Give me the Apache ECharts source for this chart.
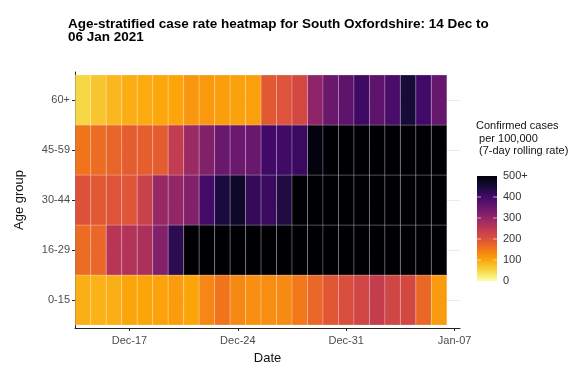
<!DOCTYPE html>
<html>
<head>
<meta charset="utf-8">
<script src="https://cdn.jsdelivr.net/npm/echarts@6/dist/echarts.min.js"></script>
<style>html,body{margin:0;padding:0;background:#fff;}#c{width:581px;height:372px;}</style>
</head>
<body>
<div id="c"></div>
<script>
const dates = ['2020-12-14','2020-12-15','2020-12-16','2020-12-17','2020-12-18','2020-12-19','2020-12-20','2020-12-21','2020-12-22','2020-12-23','2020-12-24','2020-12-25','2020-12-26','2020-12-27','2020-12-28','2020-12-29','2020-12-30','2020-12-31','2021-01-01','2021-01-02','2021-01-03','2021-01-04','2021-01-05','2021-01-06'];
const ageGroups = ['0-15','16-29','30-44','45-59','60+'];
const rate0_15  = [90,88,90,100,100,102,110,100,135,155,132,125,126,130,150,172,192,205,222,238,222,215,170,112];
const rate16_29 = [165,172,255,262,270,320,425,510,530,545,560,575,590,600,610,620,630,640,650,655,660,650,640,630];
const rate30_44 = [200,190,198,195,230,295,300,320,395,445,465,415,410,440,505,520,540,560,580,600,610,620,615,600];
const rate45_59 = [155,165,175,185,182,185,240,290,320,350,348,350,400,402,410,490,520,540,560,580,600,610,620,630];
const rate60p   = [50,68,82,92,95,98,100,115,113,108,105,106,190,198,215,305,350,365,405,365,390,450,400,355];
const tickDates = ['2020-12-17','2020-12-24','2020-12-31','2021-01-07'];
const tickLabels = ['Dec-17','Dec-24','Dec-31','Jan-07'];
const legendValues = [0,100,200,300,400,500];
const legendLabels = ['0','100','200','300','400','500+'];

const DAY = 86400000;
const t0 = Date.parse(dates[0]);
const dayIndex = d => Math.round((Date.parse(d) - t0) / DAY);
const rows = [rate0_15, rate16_29, rate30_44, rate45_59, rate60p];
const data = [];
rows.forEach((r, yi) => r.forEach((v, xi) => data.push([dayIndex(dates[xi]), yi, v])));
const tickIdx = tickDates.map(dayIndex);

const inferno = ['#000004','#160b39','#420a68','#6a176e','#932667','#bc3754','#dd513a','#f37819','#fca50a','#f6d746','#fcffa4'];
const colorsLowToHigh = inferno.slice().reverse();
const FONT = '"Liberation Sans", Arial, sans-serif';

const chart = echarts.init(document.getElementById('c'), null, {renderer: 'canvas'});

const barX = 477, barTop = 176, barH = 105, barW = 20, vmax = 500;
const legendGraphics = [
  {type: 'rect', shape: {x: barX, y: barTop, width: barW, height: barH},
   style: {fill: new echarts.graphic.LinearGradient(0, 1, 0, 0,
     colorsLowToHigh.map((c, i) => ({offset: i / (colorsLowToHigh.length - 1), color: c})))}}
];
legendValues.forEach((v, i) => {
  const y = barTop + barH - v / vmax * barH;
  if (v > 0 && v < vmax) {
    legendGraphics.push({type: 'line', shape: {x1: barX, y1: y, x2: barX + 4, y2: y}, style: {stroke: 'rgba(255,255,255,0.6)', lineWidth: 1}});
    legendGraphics.push({type: 'line', shape: {x1: barX + barW - 4, y1: y, x2: barX + barW, y2: y}, style: {stroke: 'rgba(255,255,255,0.6)', lineWidth: 1}});
  }
  legendGraphics.push({type: 'text', x: barX + barW + 6, y: y, style: {text: legendLabels[i], font: '11px ' + FONT, fill: '#333', verticalAlign: 'middle'}});
});
legendGraphics.push({type: 'text', x: 476, y: 120, style: {text: 'Confirmed cases\n per 100,000\n (7-day rolling rate)', font: '11px ' + FONT, fill: '#111', lineHeight: 12.5}});

chart.setOption({
  animation: false,
  backgroundColor: '#fff',
  title: {
    text: 'Age-stratified case rate heatmap for South Oxfordshire: 14 Dec to\n06 Jan 2021',
    left: 63, top: 13,
    textStyle: {fontFamily: FONT, fontSize: 13.5, fontWeight: 'bold', color: '#000', lineHeight: 13}
  },
  grid: {left: 75, top: 72, width: 385, height: 256},
  xAxis: {
    type: 'value', min: -0.52, max: 24.35,
    name: 'Date', nameLocation: 'middle', nameGap: 24,
    nameTextStyle: {fontFamily: FONT, fontSize: 13, color: '#111'},
    axisLine: {show: true, onZero: false, lineStyle: {color: '#222', width: 1}},
    axisTick: {show: true, customValues: tickIdx, length: 3, lineStyle: {color: '#222'}},
    axisLabel: {customValues: tickIdx, fontFamily: FONT, fontSize: 11, color: '#4d4d4d', margin: 7,
      formatter: v => { const k = tickIdx.indexOf(Math.round(v)); return k >= 0 ? tickLabels[k] : ''; }},
    splitLine: {show: false}
  },
  yAxis: {
    type: 'value', min: -0.56, max: 4.56,
    name: 'Age group', nameLocation: 'middle', nameGap: 49, nameRotate: 90,
    nameTextStyle: {fontFamily: FONT, fontSize: 13, color: '#111'},
    axisLine: {show: true, onZero: false, lineStyle: {color: '#222', width: 1}},
    axisTick: {show: true, customValues: [0,1,2,3,4], length: 3, lineStyle: {color: '#222'}},
    axisLabel: {customValues: [0,1,2,3,4], fontFamily: FONT, fontSize: 11, color: '#4d4d4d', margin: 5,
      formatter: v => ageGroups[Math.round(v)] || ''},
    splitLine: {show: true, lineStyle: {color: '#ebebeb', width: 1}}
  },
  visualMap: {
    type: 'continuous', show: false, min: 0, max: vmax, dimension: 2, seriesIndex: 0,
    inRange: {color: colorsLowToHigh}
  },
  series: [{
    type: 'custom',
    data: data,
    encode: {x: 0, y: 1},
    renderItem: (params, api) => {
      const x = api.value(0), y = api.value(1);
      const p0 = api.coord([x - 0.5, y + 0.5]);
      const p1 = api.coord([x + 0.5, y - 0.5]);
      return {type: 'rect', shape: {x: p0[0], y: p0[1], width: p1[0] - p0[0], height: p1[1] - p0[1]},
        style: {fill: api.visual('color'), stroke: 'rgba(255,255,255,0.22)', lineWidth: 1}};
    }
  }],
  graphic: legendGraphics
});
</script>
</body>
</html>
